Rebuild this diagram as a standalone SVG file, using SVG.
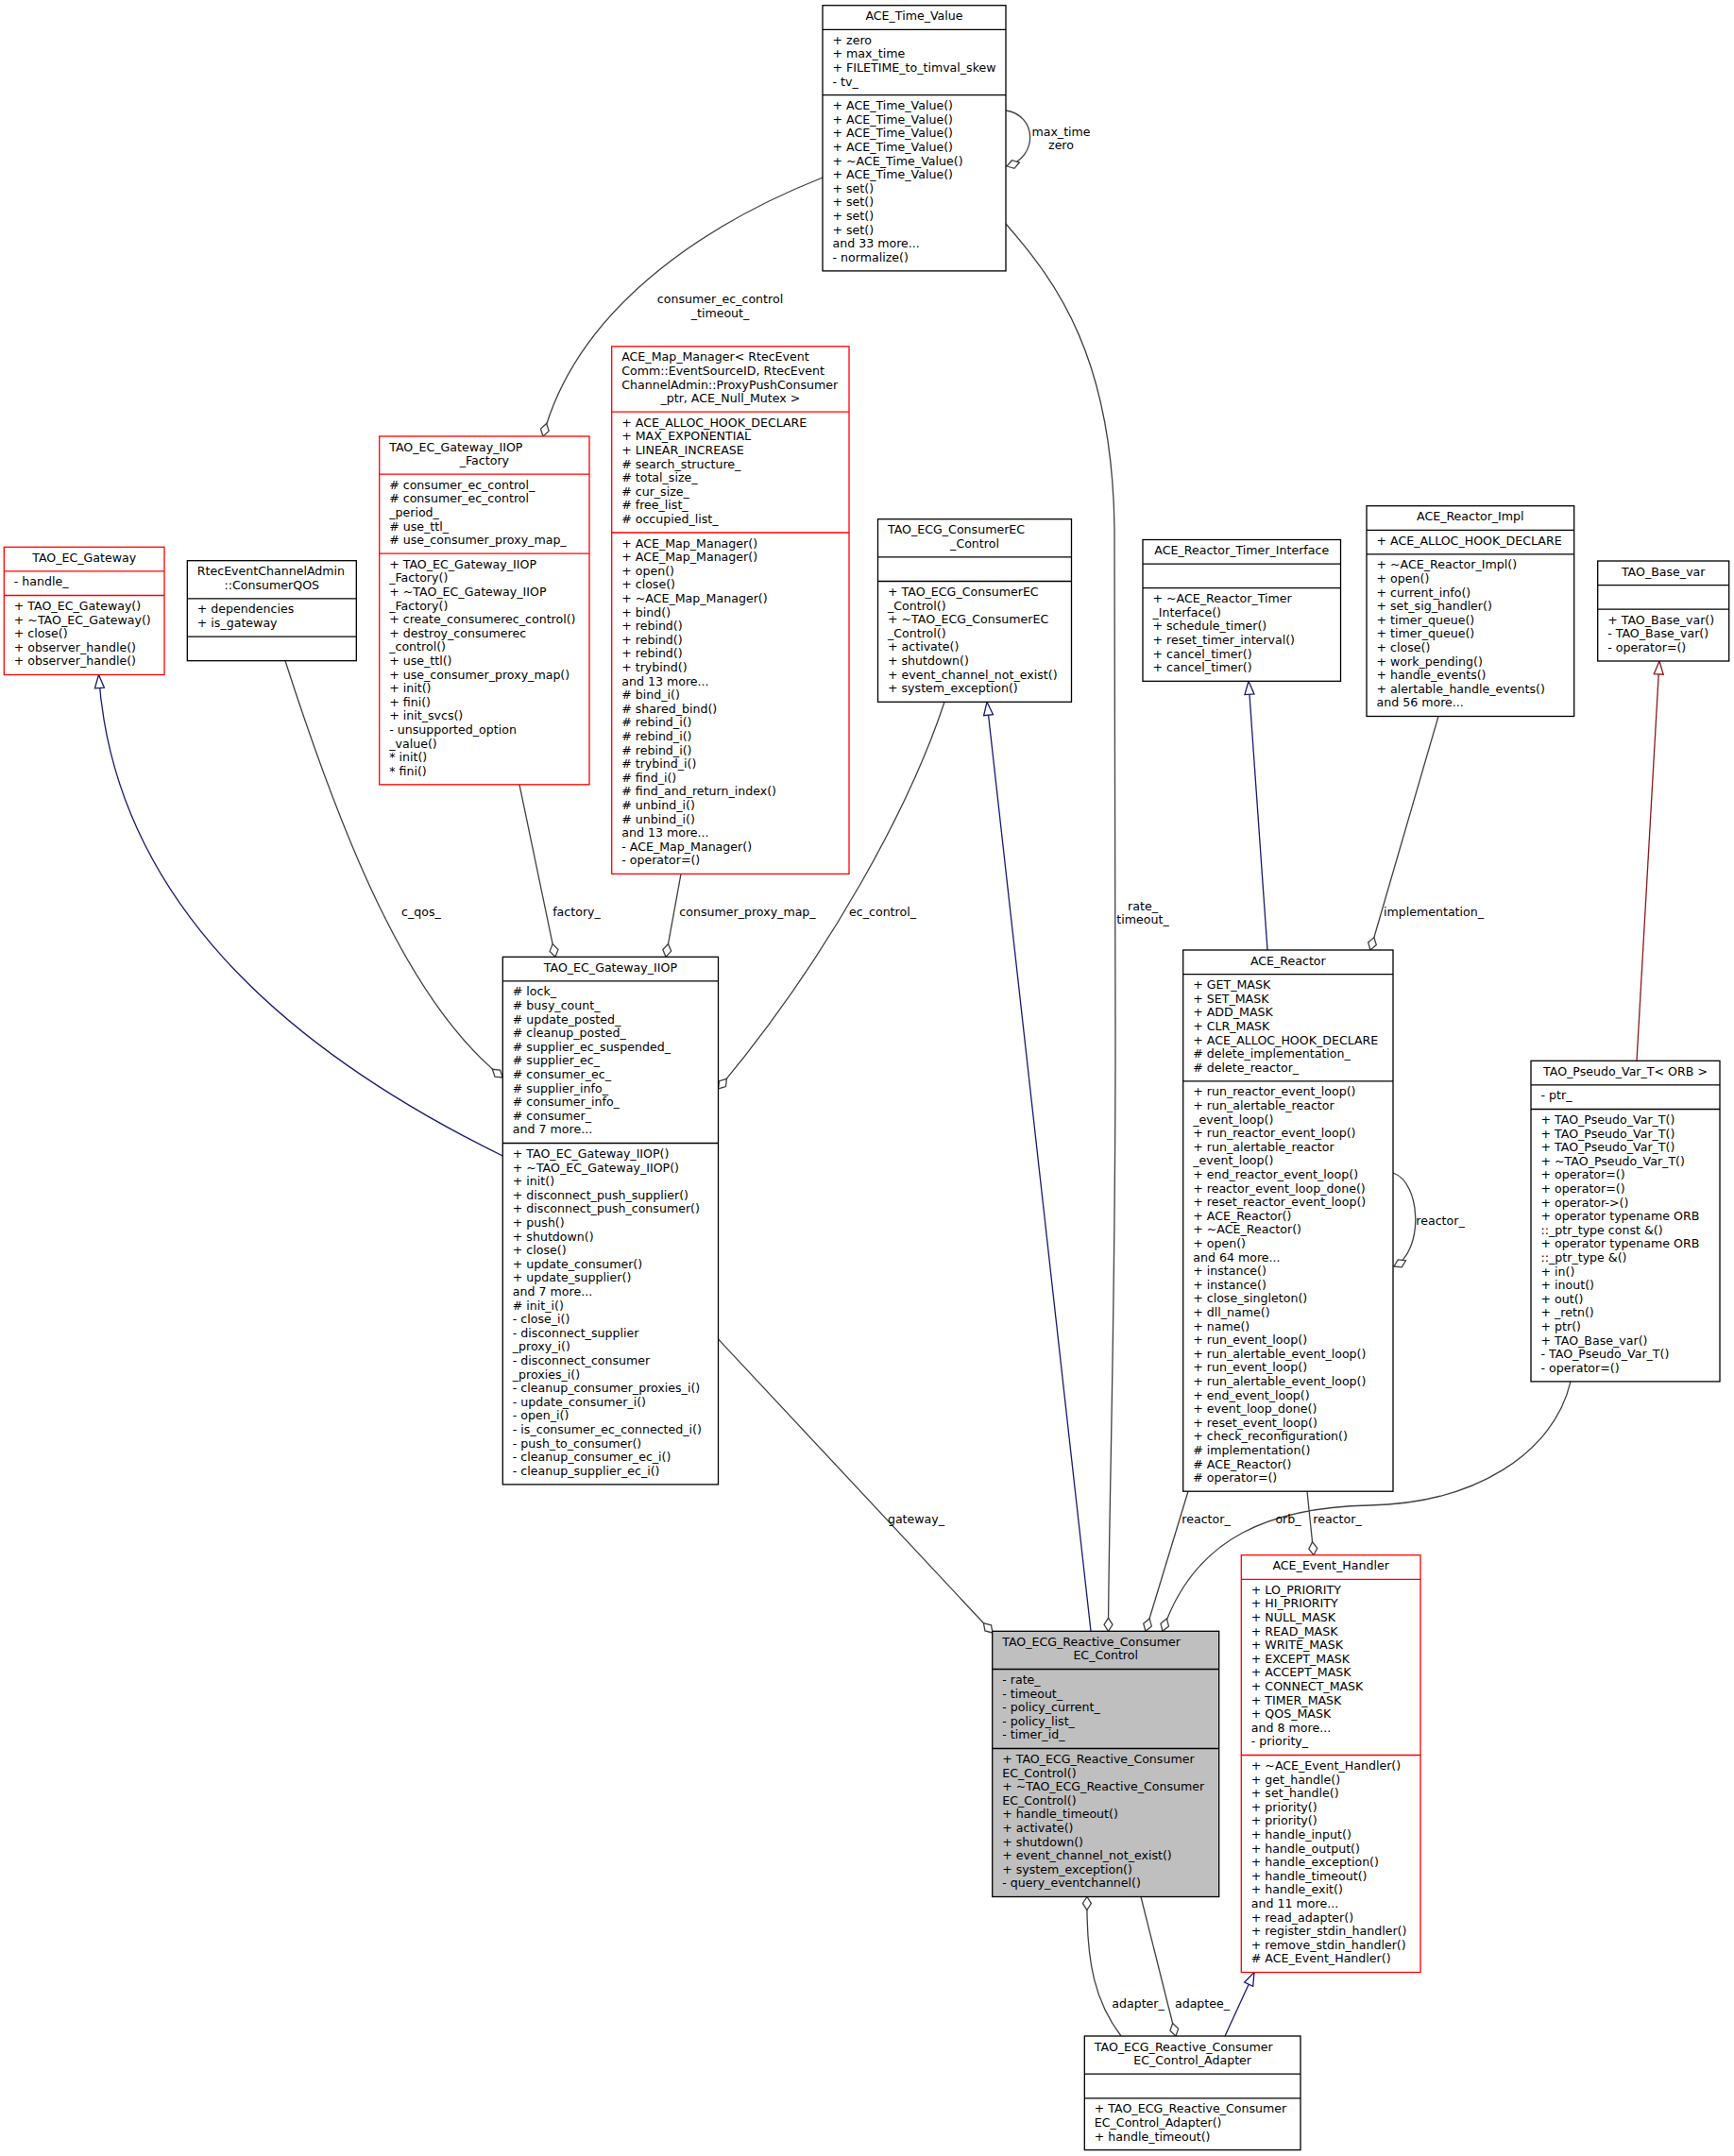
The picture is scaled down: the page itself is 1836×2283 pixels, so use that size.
<svg xmlns="http://www.w3.org/2000/svg" width="1836" height="2283" viewBox="0 0 1836 2283">
<style>
.bx{fill:#fff;stroke:#000;stroke-width:1.3}
.rd{stroke:#ff0000}
.mn{fill:#bfbfbf}
.sp{stroke:#000;stroke-width:1.3}
.sr{stroke:#ff0000;stroke-width:1.3}
text{font-family:"DejaVu Sans","Liberation Sans",sans-serif;font-size:12.6px;fill:#000}
.c{text-anchor:middle}
.e{fill:none;stroke:#404040;stroke-width:1.3}
.b{fill:none;stroke:#191970;stroke-width:1.3}
.f{fill:none;stroke:#8b1a1a;stroke-width:1.3}
</style>
<defs>
<marker id="dia" viewBox="-16 -7 17 14" refX="0" refY="0" markerWidth="17" markerHeight="14" markerUnits="userSpaceOnUse" orient="auto"><path d="M0,0 L-7,-4.5 L-14,0 L-7,4.5 Z" fill="#fff" stroke="#404040" stroke-width="1.3"/></marker>
<marker id="tb" viewBox="-16 -7 17 14" refX="0" refY="0" markerWidth="17" markerHeight="14" markerUnits="userSpaceOnUse" orient="auto"><path d="M0,0 L-14,-5 L-14,5 Z" fill="#fff" stroke="#191970" stroke-width="1.3"/></marker>
<marker id="tr" viewBox="-16 -7 17 14" refX="0" refY="0" markerWidth="17" markerHeight="14" markerUnits="userSpaceOnUse" orient="auto"><path d="M0,0 L-14,-5 L-14,5 Z" fill="#fff" stroke="#8b1a1a" stroke-width="1.3"/></marker>
</defs>
<rect width="1836" height="2283" fill="#fff"/>

<g id="connectors">
<path class="e" d="M1065,117 C1098,122 1100,166 1066,176" marker-end="url(#dia)"/>
<path class="e" d="M871,188 C740,240 610,330 575,462" marker-end="url(#dia)"/>
<path class="e" d="M1065,237 C1120,300 1178,380 1180,560 L1181,1100 C1181,1400 1174,1600 1173.5,1727.3" marker-end="url(#dia)"/>
<path class="b" d="M532.3,1224 C300,1110 120,950 104.5,714.5" marker-end="url(#tb)"/>
<path class="e" d="M302,699.7 C360,880 430,1060 532.3,1141" marker-end="url(#dia)"/>
<path class="e" d="M550,830.8 L588,1013.3" marker-end="url(#dia)"/>
<path class="e" d="M721,925.4 L705,1013.3" marker-end="url(#dia)"/>
<path class="e" d="M1000,743.3 C965,850 880,1010 760.5,1153" marker-end="url(#dia)"/>
<path class="b" d="M1155,1727.3 L1045,743.3" marker-end="url(#tb)"/>
<path class="b" d="M1342,1006 L1322,721.3" marker-end="url(#tb)"/>
<path class="e" d="M1523,758.5 L1451,1006" marker-end="url(#dia)"/>
<path class="f" d="M1733,1123.3 L1757,700" marker-end="url(#tr)"/>
<path class="e" d="M1475,1242 C1505,1252 1508,1325 1476,1341" marker-end="url(#dia)"/>
<path class="e" d="M1258,1579.2 L1213,1727.3" marker-end="url(#dia)"/>
<path class="e" d="M1384,1579.2 L1391,1646.7" marker-end="url(#dia)"/>
<path class="e" d="M1663,1462.9 C1645,1540 1560,1592 1450,1594 C1350,1596 1265,1625 1231,1727.3" marker-end="url(#dia)"/>
<path class="e" d="M1187,2156 C1160,2120 1150,2080 1151,2008.5" marker-end="url(#dia)"/>
<path class="e" d="M1208,2008.5 L1245,2156" marker-end="url(#dia)"/>
<path class="b" d="M1297,2156 L1328,2088.5" marker-end="url(#tb)"/>
<path class="e" d="M760.5,1418 L1051,1729" marker-end="url(#dia)"/>
<text class="c" x="1123.5" y="143.5">max_time</text>
<text class="c" x="1123.5" y="157.8">zero</text>
<text class="c" x="762.5" y="321">consumer_ec_control</text>
<text class="c" x="762.5" y="335.6">_timeout_</text>
<text class="c" x="1210" y="963.5">rate_</text>
<text class="c" x="1210" y="978">timeout_</text>
<text class="c" x="446" y="970">c_qos_</text>
<text class="c" x="610.5" y="970">factory_</text>
<text class="c" x="791.5" y="970">consumer_proxy_map_</text>
<text class="c" x="934.5" y="970">ec_control_</text>
<text class="c" x="1518" y="970">implementation_</text>
<text class="c" x="1525" y="1296.5">reactor_</text>
<text class="c" x="970" y="1613">gateway_</text>
<text class="c" x="1277" y="1613">reactor_</text>
<text class="c" x="1364" y="1613">orb_</text>
<text class="c" x="1416" y="1613">reactor_</text>
<text class="c" x="1205" y="2126">adapter_</text>
<text class="c" x="1273" y="2126">adaptee_</text>
</g>

<g id="ACE_Time_Value">
<rect class="bx" x="871" y="5.7" width="194" height="281.2"/>
<line class="sp" x1="871" y1="31.3" x2="1065" y2="31.3"/>
<line class="sp" x1="871" y1="100.7" x2="1065" y2="100.7"/>
<text class="c" x="968" y="21.2">ACE_Time_Value</text>
<text x="881.5" y="46.8"><tspan x="881.5" dy="0">+ zero</tspan><tspan x="881.5" dy="14.6">+ max_time</tspan><tspan x="881.5" dy="14.6">+ FILETIME_to_timval_skew</tspan><tspan x="881.5" dy="14.6">- tv_</tspan></text>
<text x="881.5" y="116.2"><tspan x="881.5" dy="0">+ ACE_Time_Value()</tspan><tspan x="881.5" dy="14.6">+ ACE_Time_Value()</tspan><tspan x="881.5" dy="14.6">+ ACE_Time_Value()</tspan><tspan x="881.5" dy="14.6">+ ACE_Time_Value()</tspan><tspan x="881.5" dy="14.6">+ ~ACE_Time_Value()</tspan><tspan x="881.5" dy="14.6">+ ACE_Time_Value()</tspan><tspan x="881.5" dy="14.6">+ set()</tspan><tspan x="881.5" dy="14.6">+ set()</tspan><tspan x="881.5" dy="14.6">+ set()</tspan><tspan x="881.5" dy="14.6">+ set()</tspan><tspan x="881.5" dy="14.6">and 33 more...</tspan><tspan x="881.5" dy="14.6">- normalize()</tspan></text>
</g>

<g id="TAO_EC_Gateway">
<rect class="bx rd" x="4.3" y="579.3" width="169.7" height="135.2"/>
<line class="sr" x1="4.3" y1="604.9" x2="174" y2="604.9"/>
<line class="sr" x1="4.3" y1="630.5" x2="174" y2="630.5"/>
<text class="c" x="89.2" y="594.8">TAO_EC_Gateway</text>
<text x="14.8" y="620.4">- handle_</text>
<text x="14.8" y="646"><tspan x="14.8" dy="0">+ TAO_EC_Gateway()</tspan><tspan x="14.8" dy="14.6">+ ~TAO_EC_Gateway()</tspan><tspan x="14.8" dy="14.6">+ close()</tspan><tspan x="14.8" dy="14.6">+ observer_handle()</tspan><tspan x="14.8" dy="14.6">+ observer_handle()</tspan></text>
</g>

<g id="ConsumerQOS">
<rect class="bx" x="198.3" y="593.7" width="179" height="106"/>
<line class="sp" x1="198.3" y1="633.9" x2="377.3" y2="633.9"/>
<line class="sp" x1="198.3" y1="674.1" x2="377.3" y2="674.1"/>
<text x="208.8" y="609.2">RtecEventChannelAdmin</text>
<text class="c" x="287.8" y="623.8">::ConsumerQOS</text>
<text x="208.8" y="649.4"><tspan x="208.8" dy="0">+ dependencies</tspan><tspan x="208.8" dy="14.6">+ is_gateway</tspan></text>
</g>

<g id="TAO_EC_Gateway_IIOP_Factory">
<rect class="bx rd" x="401.7" y="462" width="222.3" height="368.8"/>
<line class="sr" x1="401.7" y1="502.2" x2="624" y2="502.2"/>
<line class="sr" x1="401.7" y1="586.2" x2="624" y2="586.2"/>
<text x="412.2" y="477.5">TAO_EC_Gateway_IIOP</text>
<text class="c" x="512.9" y="492.1">_Factory</text>
<text x="412.2" y="517.7"><tspan x="412.2" dy="0"># consumer_ec_control_</tspan><tspan x="412.2" dy="14.6"># consumer_ec_control</tspan><tspan x="412.2" dy="14.6">_period_</tspan><tspan x="412.2" dy="14.6"># use_ttl_</tspan><tspan x="412.2" dy="14.6"># use_consumer_proxy_map_</tspan></text>
<text x="412.2" y="601.7"><tspan x="412.2" dy="0">+ TAO_EC_Gateway_IIOP</tspan><tspan x="412.2" dy="14.6">_Factory()</tspan><tspan x="412.2" dy="14.6">+ ~TAO_EC_Gateway_IIOP</tspan><tspan x="412.2" dy="14.6">_Factory()</tspan><tspan x="412.2" dy="14.6">+ create_consumerec_control()</tspan><tspan x="412.2" dy="14.6">+ destroy_consumerec</tspan><tspan x="412.2" dy="14.6">_control()</tspan><tspan x="412.2" dy="14.6">+ use_ttl()</tspan><tspan x="412.2" dy="14.6">+ use_consumer_proxy_map()</tspan><tspan x="412.2" dy="14.6">+ init()</tspan><tspan x="412.2" dy="14.6">+ fini()</tspan><tspan x="412.2" dy="14.6">+ init_svcs()</tspan><tspan x="412.2" dy="14.6">- unsupported_option</tspan><tspan x="412.2" dy="14.6">_value()</tspan><tspan x="412.2" dy="14.6">* init()</tspan><tspan x="412.2" dy="14.6">* fini()</tspan></text>
</g>

<g id="ACE_Map_Manager">
<rect class="bx rd" x="647.7" y="366.8" width="251.3" height="558.6"/>
<line class="sr" x1="647.7" y1="436.2" x2="899" y2="436.2"/>
<line class="sr" x1="647.7" y1="564" x2="899" y2="564"/>
<text x="658.2" y="382.3"><tspan x="658.2" dy="0">ACE_Map_Manager&lt; RtecEvent</tspan><tspan x="658.2" dy="14.6">Comm::EventSourceID, RtecEvent</tspan><tspan x="658.2" dy="14.6">ChannelAdmin::ProxyPushConsumer</tspan></text>
<text class="c" x="773.4" y="426.1">_ptr, ACE_Null_Mutex &gt;</text>
<text x="658.2" y="451.7"><tspan x="658.2" dy="0">+ ACE_ALLOC_HOOK_DECLARE</tspan><tspan x="658.2" dy="14.6">+ MAX_EXPONENTIAL</tspan><tspan x="658.2" dy="14.6">+ LINEAR_INCREASE</tspan><tspan x="658.2" dy="14.6"># search_structure_</tspan><tspan x="658.2" dy="14.6"># total_size_</tspan><tspan x="658.2" dy="14.6"># cur_size_</tspan><tspan x="658.2" dy="14.6"># free_list_</tspan><tspan x="658.2" dy="14.6"># occupied_list_</tspan></text>
<text x="658.2" y="579.5"><tspan x="658.2" dy="0">+ ACE_Map_Manager()</tspan><tspan x="658.2" dy="14.6">+ ACE_Map_Manager()</tspan><tspan x="658.2" dy="14.6">+ open()</tspan><tspan x="658.2" dy="14.6">+ close()</tspan><tspan x="658.2" dy="14.6">+ ~ACE_Map_Manager()</tspan><tspan x="658.2" dy="14.6">+ bind()</tspan><tspan x="658.2" dy="14.6">+ rebind()</tspan><tspan x="658.2" dy="14.6">+ rebind()</tspan><tspan x="658.2" dy="14.6">+ rebind()</tspan><tspan x="658.2" dy="14.6">+ trybind()</tspan><tspan x="658.2" dy="14.6">and 13 more...</tspan><tspan x="658.2" dy="14.6"># bind_i()</tspan><tspan x="658.2" dy="14.6"># shared_bind()</tspan><tspan x="658.2" dy="14.6"># rebind_i()</tspan><tspan x="658.2" dy="14.6"># rebind_i()</tspan><tspan x="658.2" dy="14.6"># rebind_i()</tspan><tspan x="658.2" dy="14.6"># trybind_i()</tspan><tspan x="658.2" dy="14.6"># find_i()</tspan><tspan x="658.2" dy="14.6"># find_and_return_index()</tspan><tspan x="658.2" dy="14.6"># unbind_i()</tspan><tspan x="658.2" dy="14.6"># unbind_i()</tspan><tspan x="658.2" dy="14.6">and 13 more...</tspan><tspan x="658.2" dy="14.6">- ACE_Map_Manager()</tspan><tspan x="658.2" dy="14.6">- operator=()</tspan></text>
</g>

<g id="TAO_ECG_ConsumerEC_Control">
<rect class="bx" x="929.5" y="549.7" width="205" height="193.6"/>
<line class="sp" x1="929.5" y1="589.9" x2="1134.5" y2="589.9"/>
<line class="sp" x1="929.5" y1="615.5" x2="1134.5" y2="615.5"/>
<text x="940" y="565.2">TAO_ECG_ConsumerEC</text>
<text class="c" x="1032" y="579.8">_Control</text>
<text x="940" y="631"><tspan x="940" dy="0">+ TAO_ECG_ConsumerEC</tspan><tspan x="940" dy="14.6">_Control()</tspan><tspan x="940" dy="14.6">+ ~TAO_ECG_ConsumerEC</tspan><tspan x="940" dy="14.6">_Control()</tspan><tspan x="940" dy="14.6">+ activate()</tspan><tspan x="940" dy="14.6">+ shutdown()</tspan><tspan x="940" dy="14.6">+ event_channel_not_exist()</tspan><tspan x="940" dy="14.6">+ system_exception()</tspan></text>
</g>

<g id="ACE_Reactor_Timer_Interface">
<rect class="bx" x="1210" y="571.5" width="209.5" height="149.8"/>
<line class="sp" x1="1210" y1="597.1" x2="1419.5" y2="597.1"/>
<line class="sp" x1="1210" y1="622.7" x2="1419.5" y2="622.7"/>
<text class="c" x="1314.75" y="587">ACE_Reactor_Timer_Interface</text>
<text x="1220.5" y="638.2"><tspan x="1220.5" dy="0">+ ~ACE_Reactor_Timer</tspan><tspan x="1220.5" dy="14.6">_Interface()</tspan><tspan x="1220.5" dy="14.6">+ schedule_timer()</tspan><tspan x="1220.5" dy="14.6">+ reset_timer_interval()</tspan><tspan x="1220.5" dy="14.6">+ cancel_timer()</tspan><tspan x="1220.5" dy="14.6">+ cancel_timer()</tspan></text>
</g>

<g id="ACE_Reactor_Impl">
<rect class="bx" x="1447" y="535.7" width="219.7" height="222.8"/>
<line class="sp" x1="1447" y1="561.3" x2="1666.7" y2="561.3"/>
<line class="sp" x1="1447" y1="586.9" x2="1666.7" y2="586.9"/>
<text class="c" x="1556.8" y="551.2">ACE_Reactor_Impl</text>
<text x="1457.5" y="576.8">+ ACE_ALLOC_HOOK_DECLARE</text>
<text x="1457.5" y="602.4"><tspan x="1457.5" dy="0">+ ~ACE_Reactor_Impl()</tspan><tspan x="1457.5" dy="14.6">+ open()</tspan><tspan x="1457.5" dy="14.6">+ current_info()</tspan><tspan x="1457.5" dy="14.6">+ set_sig_handler()</tspan><tspan x="1457.5" dy="14.6">+ timer_queue()</tspan><tspan x="1457.5" dy="14.6">+ timer_queue()</tspan><tspan x="1457.5" dy="14.6">+ close()</tspan><tspan x="1457.5" dy="14.6">+ work_pending()</tspan><tspan x="1457.5" dy="14.6">+ handle_events()</tspan><tspan x="1457.5" dy="14.6">+ alertable_handle_events()</tspan><tspan x="1457.5" dy="14.6">and 56 more...</tspan></text>
</g>

<g id="TAO_Base_var">
<rect class="bx" x="1691.7" y="594" width="139" height="106"/>
<line class="sp" x1="1691.7" y1="619.6" x2="1830.7" y2="619.6"/>
<line class="sp" x1="1691.7" y1="645.2" x2="1830.7" y2="645.2"/>
<text class="c" x="1761.2" y="609.5">TAO_Base_var</text>
<text x="1702.2" y="660.7"><tspan x="1702.2" dy="0">+ TAO_Base_var()</tspan><tspan x="1702.2" dy="14.6">- TAO_Base_var()</tspan><tspan x="1702.2" dy="14.6">- operator=()</tspan></text>
</g>

<g id="TAO_EC_Gateway_IIOP">
<rect class="bx" x="532.3" y="1013.3" width="228.2" height="558.6"/>
<line class="sp" x1="532.3" y1="1038.9" x2="760.5" y2="1038.9"/>
<line class="sp" x1="532.3" y1="1210.5" x2="760.5" y2="1210.5"/>
<text class="c" x="646.4" y="1028.8">TAO_EC_Gateway_IIOP</text>
<text x="542.8" y="1054.4"><tspan x="542.8" dy="0"># lock_</tspan><tspan x="542.8" dy="14.6"># busy_count_</tspan><tspan x="542.8" dy="14.6"># update_posted_</tspan><tspan x="542.8" dy="14.6"># cleanup_posted_</tspan><tspan x="542.8" dy="14.6"># supplier_ec_suspended_</tspan><tspan x="542.8" dy="14.6"># supplier_ec_</tspan><tspan x="542.8" dy="14.6"># consumer_ec_</tspan><tspan x="542.8" dy="14.6"># supplier_info_</tspan><tspan x="542.8" dy="14.6"># consumer_info_</tspan><tspan x="542.8" dy="14.6"># consumer_</tspan><tspan x="542.8" dy="14.6">and 7 more...</tspan></text>
<text x="542.8" y="1226"><tspan x="542.8" dy="0">+ TAO_EC_Gateway_IIOP()</tspan><tspan x="542.8" dy="14.6">+ ~TAO_EC_Gateway_IIOP()</tspan><tspan x="542.8" dy="14.6">+ init()</tspan><tspan x="542.8" dy="14.6">+ disconnect_push_supplier()</tspan><tspan x="542.8" dy="14.6">+ disconnect_push_consumer()</tspan><tspan x="542.8" dy="14.6">+ push()</tspan><tspan x="542.8" dy="14.6">+ shutdown()</tspan><tspan x="542.8" dy="14.6">+ close()</tspan><tspan x="542.8" dy="14.6">+ update_consumer()</tspan><tspan x="542.8" dy="14.6">+ update_supplier()</tspan><tspan x="542.8" dy="14.6">and 7 more...</tspan><tspan x="542.8" dy="14.6"># init_i()</tspan><tspan x="542.8" dy="14.6">- close_i()</tspan><tspan x="542.8" dy="14.6">- disconnect_supplier</tspan><tspan x="542.8" dy="14.6">_proxy_i()</tspan><tspan x="542.8" dy="14.6">- disconnect_consumer</tspan><tspan x="542.8" dy="14.6">_proxies_i()</tspan><tspan x="542.8" dy="14.6">- cleanup_consumer_proxies_i()</tspan><tspan x="542.8" dy="14.6">- update_consumer_i()</tspan><tspan x="542.8" dy="14.6">- open_i()</tspan><tspan x="542.8" dy="14.6">- is_consumer_ec_connected_i()</tspan><tspan x="542.8" dy="14.6">- push_to_consumer()</tspan><tspan x="542.8" dy="14.6">- cleanup_consumer_ec_i()</tspan><tspan x="542.8" dy="14.6">- cleanup_supplier_ec_i()</tspan></text>
</g>

<g id="ACE_Reactor">
<rect class="bx" x="1252.7" y="1006" width="222.3" height="573.2"/>
<line class="sp" x1="1252.7" y1="1031.6" x2="1475" y2="1031.6"/>
<line class="sp" x1="1252.7" y1="1144.8" x2="1475" y2="1144.8"/>
<text class="c" x="1363.85" y="1021.5">ACE_Reactor</text>
<text x="1263.2" y="1047.1"><tspan x="1263.2" dy="0">+ GET_MASK</tspan><tspan x="1263.2" dy="14.6">+ SET_MASK</tspan><tspan x="1263.2" dy="14.6">+ ADD_MASK</tspan><tspan x="1263.2" dy="14.6">+ CLR_MASK</tspan><tspan x="1263.2" dy="14.6">+ ACE_ALLOC_HOOK_DECLARE</tspan><tspan x="1263.2" dy="14.6"># delete_implementation_</tspan><tspan x="1263.2" dy="14.6"># delete_reactor_</tspan></text>
<text x="1263.2" y="1160.3"><tspan x="1263.2" dy="0">+ run_reactor_event_loop()</tspan><tspan x="1263.2" dy="14.6">+ run_alertable_reactor</tspan><tspan x="1263.2" dy="14.6">_event_loop()</tspan><tspan x="1263.2" dy="14.6">+ run_reactor_event_loop()</tspan><tspan x="1263.2" dy="14.6">+ run_alertable_reactor</tspan><tspan x="1263.2" dy="14.6">_event_loop()</tspan><tspan x="1263.2" dy="14.6">+ end_reactor_event_loop()</tspan><tspan x="1263.2" dy="14.6">+ reactor_event_loop_done()</tspan><tspan x="1263.2" dy="14.6">+ reset_reactor_event_loop()</tspan><tspan x="1263.2" dy="14.6">+ ACE_Reactor()</tspan><tspan x="1263.2" dy="14.6">+ ~ACE_Reactor()</tspan><tspan x="1263.2" dy="14.6">+ open()</tspan><tspan x="1263.2" dy="14.6">and 64 more...</tspan><tspan x="1263.2" dy="14.6">+ instance()</tspan><tspan x="1263.2" dy="14.6">+ instance()</tspan><tspan x="1263.2" dy="14.6">+ close_singleton()</tspan><tspan x="1263.2" dy="14.6">+ dll_name()</tspan><tspan x="1263.2" dy="14.6">+ name()</tspan><tspan x="1263.2" dy="14.6">+ run_event_loop()</tspan><tspan x="1263.2" dy="14.6">+ run_alertable_event_loop()</tspan><tspan x="1263.2" dy="14.6">+ run_event_loop()</tspan><tspan x="1263.2" dy="14.6">+ run_alertable_event_loop()</tspan><tspan x="1263.2" dy="14.6">+ end_event_loop()</tspan><tspan x="1263.2" dy="14.6">+ event_loop_done()</tspan><tspan x="1263.2" dy="14.6">+ reset_event_loop()</tspan><tspan x="1263.2" dy="14.6">+ check_reconfiguration()</tspan><tspan x="1263.2" dy="14.6"># implementation()</tspan><tspan x="1263.2" dy="14.6"># ACE_Reactor()</tspan><tspan x="1263.2" dy="14.6"># operator=()</tspan></text>
</g>

<g id="TAO_Pseudo_Var_T">
<rect class="bx" x="1621" y="1123.3" width="200" height="339.6"/>
<line class="sp" x1="1621" y1="1148.9" x2="1821" y2="1148.9"/>
<line class="sp" x1="1621" y1="1174.5" x2="1821" y2="1174.5"/>
<text class="c" x="1721" y="1138.8">TAO_Pseudo_Var_T&lt; ORB &gt;</text>
<text x="1631.5" y="1164.4">- ptr_</text>
<text x="1631.5" y="1190"><tspan x="1631.5" dy="0">+ TAO_Pseudo_Var_T()</tspan><tspan x="1631.5" dy="14.6">+ TAO_Pseudo_Var_T()</tspan><tspan x="1631.5" dy="14.6">+ TAO_Pseudo_Var_T()</tspan><tspan x="1631.5" dy="14.6">+ ~TAO_Pseudo_Var_T()</tspan><tspan x="1631.5" dy="14.6">+ operator=()</tspan><tspan x="1631.5" dy="14.6">+ operator=()</tspan><tspan x="1631.5" dy="14.6">+ operator-&gt;()</tspan><tspan x="1631.5" dy="14.6">+ operator typename ORB</tspan><tspan x="1631.5" dy="14.6">::_ptr_type const &amp;()</tspan><tspan x="1631.5" dy="14.6">+ operator typename ORB</tspan><tspan x="1631.5" dy="14.6">::_ptr_type &amp;()</tspan><tspan x="1631.5" dy="14.6">+ in()</tspan><tspan x="1631.5" dy="14.6">+ inout()</tspan><tspan x="1631.5" dy="14.6">+ out()</tspan><tspan x="1631.5" dy="14.6">+ _retn()</tspan><tspan x="1631.5" dy="14.6">+ ptr()</tspan><tspan x="1631.5" dy="14.6">+ TAO_Base_var()</tspan><tspan x="1631.5" dy="14.6">- TAO_Pseudo_Var_T()</tspan><tspan x="1631.5" dy="14.6">- operator=()</tspan></text>
</g>

<g id="TAO_ECG_Reactive_ConsumerEC_Control">
<rect class="bx mn" x="1050.7" y="1727.3" width="240" height="281.2"/>
<line class="sp" x1="1050.7" y1="1767.5" x2="1290.7" y2="1767.5"/>
<line class="sp" x1="1050.7" y1="1851.5" x2="1290.7" y2="1851.5"/>
<text x="1061.2" y="1742.8">TAO_ECG_Reactive_Consumer</text>
<text class="c" x="1170.7" y="1757.4">EC_Control</text>
<text x="1061.2" y="1783"><tspan x="1061.2" dy="0">- rate_</tspan><tspan x="1061.2" dy="14.6">- timeout_</tspan><tspan x="1061.2" dy="14.6">- policy_current_</tspan><tspan x="1061.2" dy="14.6">- policy_list_</tspan><tspan x="1061.2" dy="14.6">- timer_id_</tspan></text>
<text x="1061.2" y="1867"><tspan x="1061.2" dy="0">+ TAO_ECG_Reactive_Consumer</tspan><tspan x="1061.2" dy="14.6">EC_Control()</tspan><tspan x="1061.2" dy="14.6">+ ~TAO_ECG_Reactive_Consumer</tspan><tspan x="1061.2" dy="14.6">EC_Control()</tspan><tspan x="1061.2" dy="14.6">+ handle_timeout()</tspan><tspan x="1061.2" dy="14.6">+ activate()</tspan><tspan x="1061.2" dy="14.6">+ shutdown()</tspan><tspan x="1061.2" dy="14.6">+ event_channel_not_exist()</tspan><tspan x="1061.2" dy="14.6">+ system_exception()</tspan><tspan x="1061.2" dy="14.6">- query_eventchannel()</tspan></text>
</g>

<g id="ACE_Event_Handler">
<rect class="bx rd" x="1314.3" y="1646.7" width="189.7" height="441.8"/>
<line class="sr" x1="1314.3" y1="1672.3" x2="1504" y2="1672.3"/>
<line class="sr" x1="1314.3" y1="1858.5" x2="1504" y2="1858.5"/>
<text class="c" x="1409.15" y="1662.2">ACE_Event_Handler</text>
<text x="1324.8" y="1687.8"><tspan x="1324.8" dy="0">+ LO_PRIORITY</tspan><tspan x="1324.8" dy="14.6">+ HI_PRIORITY</tspan><tspan x="1324.8" dy="14.6">+ NULL_MASK</tspan><tspan x="1324.8" dy="14.6">+ READ_MASK</tspan><tspan x="1324.8" dy="14.6">+ WRITE_MASK</tspan><tspan x="1324.8" dy="14.6">+ EXCEPT_MASK</tspan><tspan x="1324.8" dy="14.6">+ ACCEPT_MASK</tspan><tspan x="1324.8" dy="14.6">+ CONNECT_MASK</tspan><tspan x="1324.8" dy="14.6">+ TIMER_MASK</tspan><tspan x="1324.8" dy="14.6">+ QOS_MASK</tspan><tspan x="1324.8" dy="14.6">and 8 more...</tspan><tspan x="1324.8" dy="14.6">- priority_</tspan></text>
<text x="1324.8" y="1874"><tspan x="1324.8" dy="0">+ ~ACE_Event_Handler()</tspan><tspan x="1324.8" dy="14.6">+ get_handle()</tspan><tspan x="1324.8" dy="14.6">+ set_handle()</tspan><tspan x="1324.8" dy="14.6">+ priority()</tspan><tspan x="1324.8" dy="14.6">+ priority()</tspan><tspan x="1324.8" dy="14.6">+ handle_input()</tspan><tspan x="1324.8" dy="14.6">+ handle_output()</tspan><tspan x="1324.8" dy="14.6">+ handle_exception()</tspan><tspan x="1324.8" dy="14.6">+ handle_timeout()</tspan><tspan x="1324.8" dy="14.6">+ handle_exit()</tspan><tspan x="1324.8" dy="14.6">and 11 more...</tspan><tspan x="1324.8" dy="14.6">+ read_adapter()</tspan><tspan x="1324.8" dy="14.6">+ register_stdin_handler()</tspan><tspan x="1324.8" dy="14.6">+ remove_stdin_handler()</tspan><tspan x="1324.8" dy="14.6"># ACE_Event_Handler()</tspan></text>
</g>

<g id="TAO_ECG_Reactive_ConsumerEC_Control_Adapter">
<rect class="bx" x="1148.3" y="2156" width="228.7" height="120.6"/>
<line class="sp" x1="1148.3" y1="2196.2" x2="1377" y2="2196.2"/>
<line class="sp" x1="1148.3" y1="2221.8" x2="1377" y2="2221.8"/>
<text x="1158.8" y="2171.5">TAO_ECG_Reactive_Consumer</text>
<text class="c" x="1262.65" y="2186.1">EC_Control_Adapter</text>
<text x="1158.8" y="2237.3"><tspan x="1158.8" dy="0">+ TAO_ECG_Reactive_Consumer</tspan><tspan x="1158.8" dy="14.6">EC_Control_Adapter()</tspan><tspan x="1158.8" dy="14.6">+ handle_timeout()</tspan></text>
</g>
</svg>
